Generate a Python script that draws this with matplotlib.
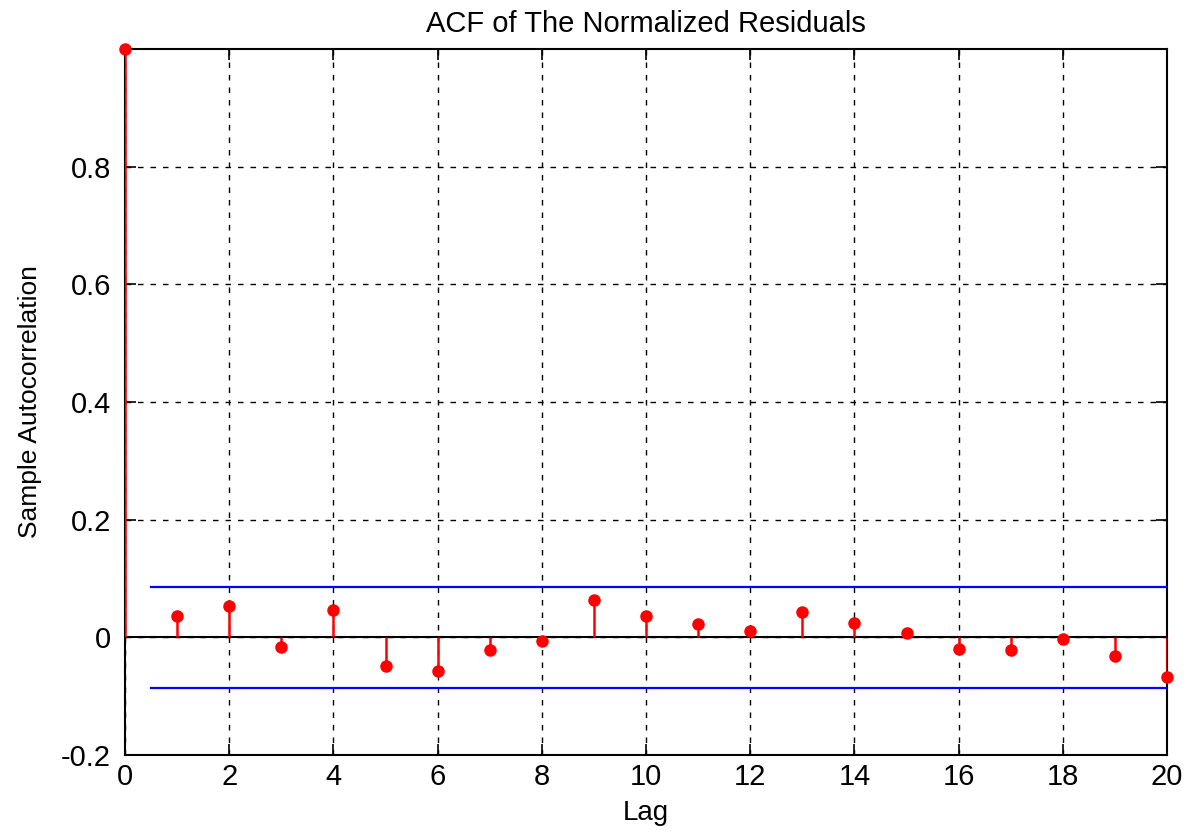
import numpy as np
import matplotlib
matplotlib.use("Agg")
import matplotlib.pyplot as plt

# sample autocorrelation
lags = list(range(21))
acf = [1.0, 0.037, 0.053, -0.017, 0.046, -0.049, -0.058, -0.022, -0.007, 0.063,
       0.036, 0.022, 0.010, 0.043, 0.024, 0.007, -0.019, -0.022, -0.003, -0.032, -0.068]
bound = 0.086
bound_lags = [0.5, 20]

plt.rcParams['font.family'] = ['Liberation Sans', 'DejaVu Sans']

fig = plt.figure(figsize=(11.99, 8.34), dpi=100)
ax = fig.add_axes([0.1043, 0.0947, 0.8690, 0.8465])

ax.axhline(0, color='black', lw=1.5, zorder=2)
ax.vlines(lags, 0, acf, color='red', lw=1.8, zorder=3)
ax.plot(lags, acf, 'o', color='red', ms=8, zorder=4, clip_on=False)
ax.plot(bound_lags, [bound, bound], color='blue', lw=1.6, zorder=3)
ax.plot(bound_lags, [-bound, -bound], color='blue', lw=1.6, zorder=3)

ax.set_xlim(0, 20)
ax.set_ylim(-0.2, 1.0)
ax.set_xticks(range(0, 21, 2))
ax.set_yticks([-0.2, 0, 0.2, 0.4, 0.6, 0.8])
ax.set_yticklabels(['-0.2', '0', '0.2', '0.4', '0.6', '0.8'])
ax.grid(True, color='black', ls=(0, (4, 5)), lw=1)
ax.tick_params(direction='in', top=True, right=True, length=8, width=1.2, labelsize=21)
ax.tick_params(axis='y', pad=10)
ax.tick_params(axis='x', pad=6)
for s in ax.spines.values():
    s.set_linewidth(1.5)

ax.set_title("ACF of The Normalized Residuals", fontsize=21, pad=12)
ax.set_xlabel("Lag", fontsize=20, labelpad=6)
ax.set_ylabel("Sample Autocorrelation", fontsize=19, labelpad=14)

fig.savefig("out.png", dpi=100)
